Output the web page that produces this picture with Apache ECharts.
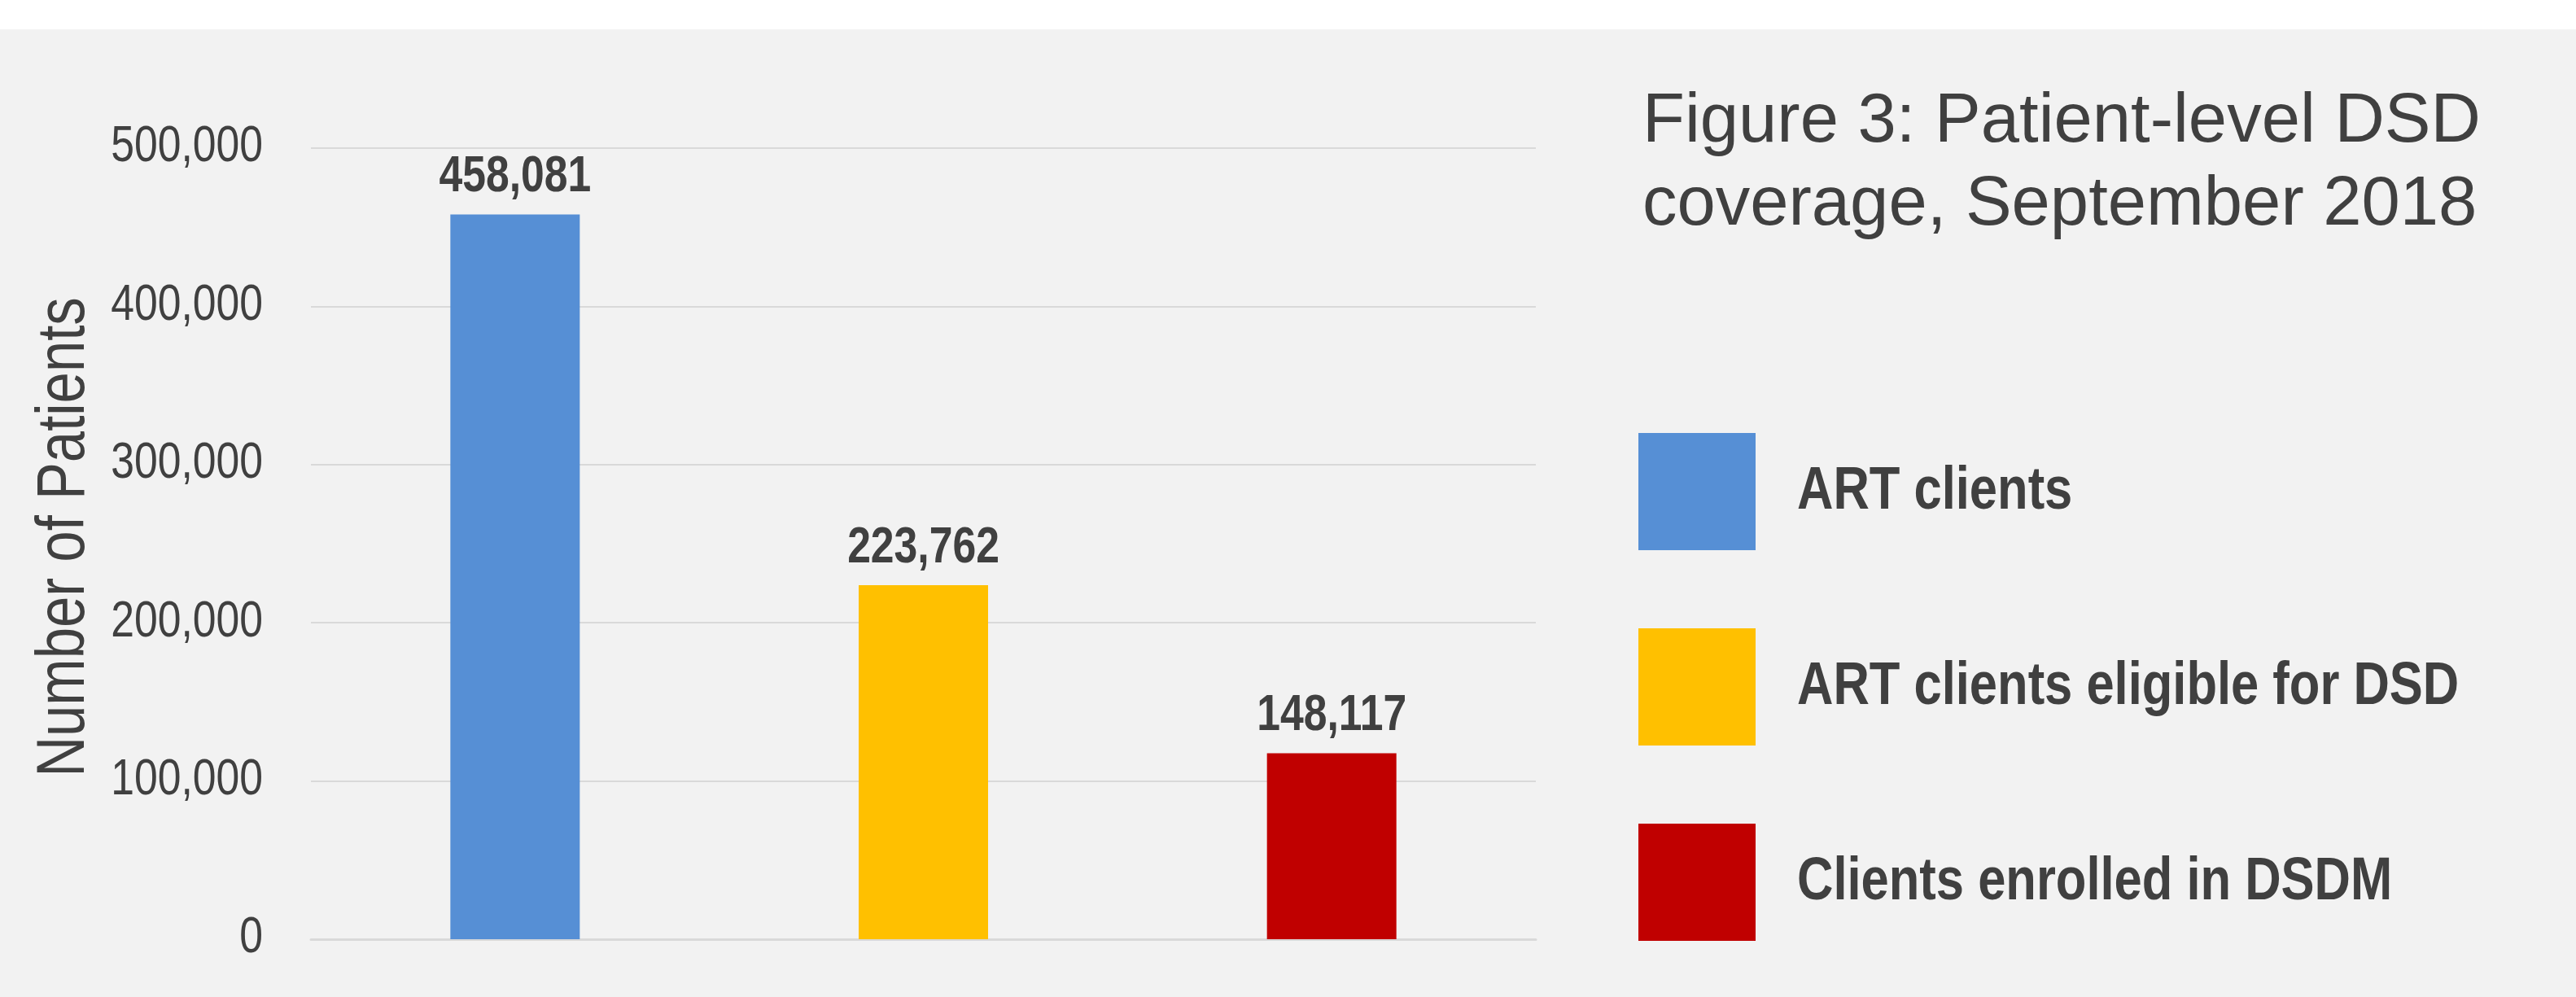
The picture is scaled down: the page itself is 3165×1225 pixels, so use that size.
<!DOCTYPE html>
<html>
<head>
<meta charset="utf-8">
<script src="https://cdn.jsdelivr.net/npm/echarts@6/dist/echarts.min.js"></script>
<style>
html,body{margin:0;padding:0;background:#ffffff;}
#chart{width:3165px;height:1225px;}
</style>
</head>
<body>
<div id="chart"></div>
<script>
const categories = ['ART clients', 'ART clients eligible for DSD', 'Clients enrolled in DSDM'];
const values = [458081, 223762, 117500];
const valueLabels = ['458,081', '223,762', '148,117'];
const tickValues = [0, 100000, 200000, 300000, 400000, 500000];
const tickLabels = ['0', '100,000', '200,000', '300,000', '400,000', '500,000'];
const colors = ['#568fd5', '#ffc000', '#c00000'];
const titleText = 'Figure 3: Patient-level DSD\ncoverage, September 2018';
const yAxisTitle = 'Number of Patients';

const FONT = "'Liberation Sans', Arial, sans-serif";
const TXT = '#404040';
const NARROW = 0.82;   // emulate a condensed face

const chart = echarts.init(document.getElementById('chart'), null, {renderer: 'canvas'});

const barSeries = categories.map((name, i) => ({
  name: name,
  type: 'bar',
  stack: 'all',
  barWidth: 159,
  itemStyle: {color: colors[i]},
  data: categories.map((c, j) => j === i ? values[j] : '-'),
  emphasis: {disabled: true}
}));

const valueLabelSeries = {
  type: 'custom',
  clip: false,
  silent: true,
  z: 5,
  data: values.map((v, i) => [i, v]),
  encode: {x: 0, y: 1},
  renderItem: (params, api) => {
    const p = api.coord([api.value(0), api.value(1)]);
    return {
      type: 'text', x: p[0], y: p[1] - 14, scaleX: NARROW,
      style: {text: valueLabels[params.dataIndex], font: 'bold 63px ' + FONT,
              fill: TXT, align: 'center', verticalAlign: 'bottom'}
    };
  }
};

const tickLabelSeries = {
  type: 'custom',
  clip: false,
  silent: true,
  z: 5,
  data: tickValues.map((v, i) => [0, v, i]),
  encode: {x: 0, y: 1},
  renderItem: (params, api) => {
    const p = api.coord([0, api.value(1)]);
    const band = api.size([1, 0])[0];
    return {
      type: 'text', x: p[0] - band / 2 - 59, y: p[1] - 1, scaleX: NARROW,
      style: {text: tickLabels[params.dataIndex], font: '63px ' + FONT,
              fill: TXT, align: 'right', verticalAlign: 'middle'}
    };
  }
};

const legendTexts = categories.map((name, i) => ({
  type: 'text', x: 2208, y: 604 + i * 240, scaleX: NARROW, silent: true,
  style: {text: name, font: 'bold 75px ' + FONT, fill: TXT, align: 'left', verticalAlign: 'middle'}
}));

chart.setOption({
  backgroundColor: 'transparent',
  animation: false,
  graphic: [
    {type: 'rect', z: -10, silent: true, shape: {x: 0, y: 36, width: 3165, height: 1189}, style: {fill: '#f2f2f2'}},
    {type: 'text', x: 80, y: 660, rotation: Math.PI / 2, scaleX: NARROW, silent: true,
     style: {text: yAxisTitle, font: '84px ' + FONT, fill: TXT, align: 'center', verticalAlign: 'middle'}}
  ].concat(legendTexts),
  title: {
    text: titleText,
    left: 2018,
    top: 100,
    padding: 0,
    textStyle: {fontFamily: FONT, fontWeight: 'normal', fontSize: 85, lineHeight: 102, color: TXT}
  },
  legend: {
    orient: 'vertical',
    left: 2013,
    top: 532,
    padding: 0,
    itemWidth: 144,
    itemHeight: 144,
    itemGap: 96,
    icon: 'rect',
    selectedMode: false,
    data: categories,
    formatter: () => '',
    textStyle: {fontSize: 1}
  },
  grid: {left: 382, right: 1278, top: 182, bottom: 71, containLabel: false},
  xAxis: {
    type: 'category',
    data: categories,
    axisLine: {show: true, lineStyle: {color: '#d9d9d9', width: 3}},
    axisTick: {show: false},
    axisLabel: {show: false}
  },
  yAxis: {
    type: 'value',
    min: 0, max: 500000, interval: 100000,
    axisLine: {show: false},
    axisTick: {show: false},
    splitLine: {show: true, lineStyle: {color: '#d9d9d9', width: 2}},
    axisLabel: {show: false}
  },
  series: barSeries.concat([valueLabelSeries, tickLabelSeries])
});
</script>
</body>
</html>
